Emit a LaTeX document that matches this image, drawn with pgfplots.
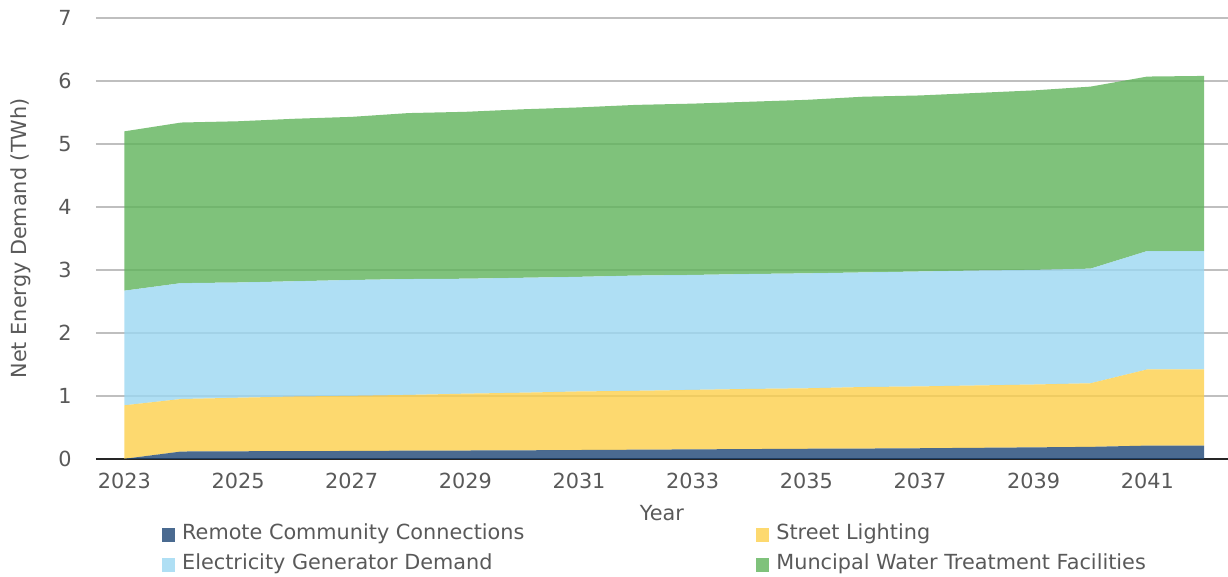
\documentclass[border=0pt]{standalone}
\usepackage{fontspec}
\setmainfont{DejaVu Sans}
\usepackage{pgfplots}
\usepackage{pgfplotstable}
\pgfplotsset{compat=1.18}
\definecolor{txt}{HTML}{595959}
\definecolor{cR}{RGB}{29,69,116}
\definecolor{cS}{RGB}{252,208,75}
\definecolor{cE}{RGB}{155,215,241}
\definecolor{cW}{RGB}{95,179,90}
\definecolor{gridc}{HTML}{BFBFBF}

\pgfplotstableread{
year R S E W
2023 0.000 0.850 1.820 2.530
2024 0.116 0.834 1.840 2.550
2025 0.120 0.850 1.830 2.560
2026 0.122 0.868 1.830 2.580
2027 0.125 0.875 1.840 2.590
2028 0.130 0.885 1.840 2.635
2029 0.132 0.903 1.825 2.650
2030 0.135 0.915 1.825 2.675
2031 0.140 0.930 1.820 2.690
2032 0.145 0.935 1.830 2.710
2033 0.150 0.945 1.825 2.720
2034 0.155 0.955 1.825 2.735
2035 0.160 0.960 1.825 2.755
2036 0.163 0.977 1.820 2.790
2037 0.168 0.982 1.825 2.795
2038 0.175 0.990 1.825 2.820
2039 0.182 0.998 1.820 2.850
2040 0.190 1.010 1.820 2.890
2041 0.210 1.210 1.880 2.770
2042 0.210 1.210 1.880 2.780
}\datatable

\begin{document}
\begin{tikzpicture}[font=\fontsize{10.4}{12.5}\selectfont]
\begin{axis}[
 scale only axis, width=566.2pt, height=220.5pt,
 xmin=2022.5, xmax=2042.42, ymin=0, ymax=7,
 stack plots=y,
 axis x line*=bottom, axis y line*=left,
 y axis line style={draw=none},
 x axis line style={draw=black!85, line width=1pt, -},
 major tick length=0pt,
 xtick={2023,2025,...,2041},
 ytick={0,1,...,7},
 xticklabel style={anchor=north, inner sep=0pt, yshift=-7pt, text=txt},
 yticklabel style={anchor=east, inner sep=0pt, xshift=-12pt, text=txt},
 /pgf/number format/assume math mode=true,
 /pgf/number format/1000 sep={},
 ymajorgrids, grid style={gridc, line width=0.75pt},
 xlabel={Year}, ylabel={Net Energy Demand (TWh)},
 every axis x label/.style={at={(axis description cs:0.5,0)}, anchor=north, yshift=-23pt, inner sep=0pt, text=txt},
 every axis y label/.style={at={(axis description cs:0,0.5)}, rotate=90, anchor=center, yshift=37.5pt, inner sep=0pt, text=txt},
 legend columns=2,
 legend cell align=left,
 legend style={at={(axis description cs:0.0585,-0.149)}, anchor=north west, draw=none, fill=none, inner sep=0pt, outer sep=0pt, row sep=5pt, text=txt, nodes={inner sep=0pt, text height=7.6pt, text depth=2.4pt}, /tikz/every odd column/.append style={column sep=3.5pt}, /tikz/every even column/.append style={column sep=116pt}},
 legend image code/.code={\fill[#1] (0pt,-3.5pt) rectangle (6.5pt,3.5pt);},
]
\addplot[draw=none, fill=cR, fill opacity=0.8] table[x=year,y=R]{\datatable} \closedcycle;
\addplot[draw=none, fill=cS, fill opacity=0.8] table[x=year,y=S]{\datatable} \closedcycle;
\addplot[draw=none, fill=cE, fill opacity=0.8] table[x=year,y=E]{\datatable} \closedcycle;
\addplot[draw=none, fill=cW, fill opacity=0.8] table[x=year,y=W]{\datatable} \closedcycle;
\legend{Remote Community Connections, Street Lighting, Electricity Generator Demand, Muncipal Water Treatment Facilities}
\end{axis}
\pgfresetboundingbox
\path ([xshift=-48pt,yshift=-59pt]current axis.south west) rectangle ([yshift=9pt]current axis.north east);
\end{tikzpicture}
\end{document}
